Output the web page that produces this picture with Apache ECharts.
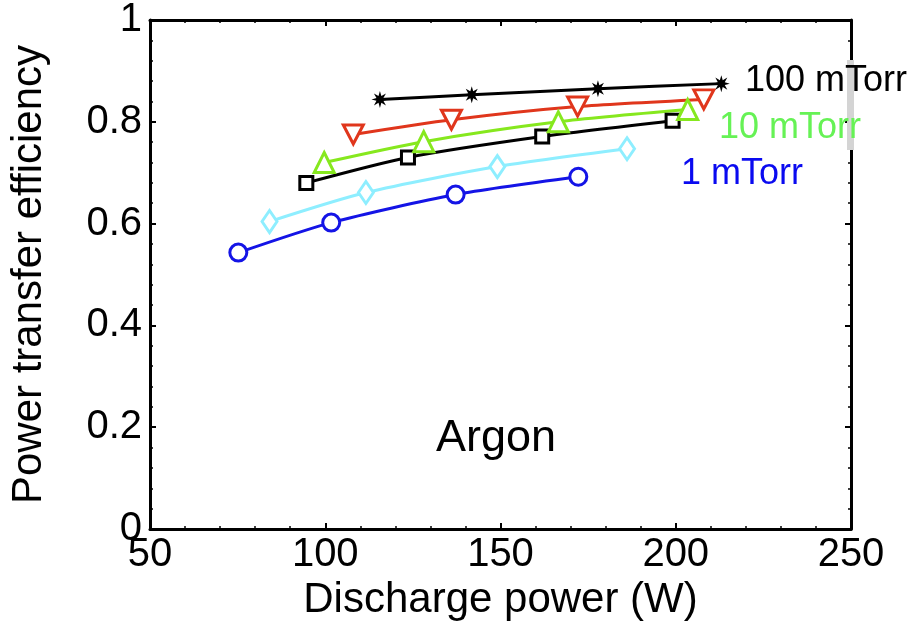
<!DOCTYPE html>
<html>
<head>
<meta charset="utf-8">
<title>Power transfer efficiency – Argon</title>
<script src="https://cdn.jsdelivr.net/npm/echarts@6/dist/echarts.min.js"></script>
<style>
  html, body { margin: 0; padding: 0; background: #fff; }
  #chart { width: 910px; height: 636px; }
</style>
</head>
<body>
<div id="chart"></div>
<script>
// Discharge power (W) and power transfer efficiency for each pressure curve
const star100x = [115.6, 141.8, 177.8, 213.0];
const star100y = [0.844, 0.853, 0.865, 0.875];
const tri30x = [108.0, 136.0, 172.0, 208.0];
const tri30y = [0.775, 0.804, 0.830, 0.844];
const tri10x = [99.7, 128.1, 166.5, 203.4];
const tri10y = [0.720, 0.761, 0.800, 0.824];
const sq5x = [94.6, 123.6, 161.9, 199.1];
const sq5y = [0.680, 0.730, 0.771, 0.802];
const dia3x = [84.1, 111.6, 149.1, 186.1];
const dia3y = [0.604, 0.661, 0.712, 0.747];
const circ1x = [75.2, 101.7, 137.2, 172.2];
const circ1y = [0.543, 0.602, 0.657, 0.692];

const xTicks = [50, 100, 150, 200, 250];
const yTicks = [0, 0.2, 0.4, 0.6, 0.8, 1];

const FONT = 'Liberation Sans, Arial, Helvetica, sans-serif';

// eight-spoke asterisk glyph as a filled star outline
function asteriskPath() {
  const pts = [];
  const n = 8;
  for (let i = 0; i < n * 2; i++) {
    const a = (Math.PI * i) / n - Math.PI / 2;
    const r = i % 2 === 0 ? 10 : 4.4;
    pts.push((10 + r * Math.cos(a)).toFixed(2) + ' ' + (10 + r * Math.sin(a)).toFixed(2));
  }
  return 'path://M' + pts.join(' L') + ' Z';
}

function pairs(xs, ys) {
  return xs.map((x, i) => [x, ys[i]]);
}

function curve(name, xs, ys, color, symbol, size, filled) {
  return {
    name: name,
    type: 'line',
    data: pairs(xs, ys),
    smooth: 0.25,
    symbol: symbol,
    symbolSize: size,
    showAllSymbol: true,
    lineStyle: { color: color, width: 3 },
    itemStyle: filled
      ? { color: color, borderColor: color, borderWidth: 0 }
      : { color: '#fff', borderColor: color, borderWidth: 3 },
    z: 3
  };
}

const chart = echarts.init(document.getElementById('chart'), null, { renderer: 'canvas' });

const axisCommon = {
  axisLine: { show: true, onZero: false, lineStyle: { color: '#000', width: 3 } },
  axisTick: { show: true, inside: true, length: 6, lineStyle: { color: '#000', width: 2 } },
  minorTick: { show: true, splitNumber: 5, length: 3, lineStyle: { color: '#000', width: 1.5 } },
  splitLine: { show: false },
  nameTextStyle: { color: '#000', fontSize: 42, fontFamily: FONT },
  axisLabel: { color: '#000', fontSize: 40, fontFamily: FONT }
};

chart.setOption({
  backgroundColor: '#fff',
  animation: false,
  grid: { left: 150, right: 59, top: 20, bottom: 107, containLabel: false },
  xAxis: [
    Object.assign({}, axisCommon, {
      type: 'value', min: xTicks[0], max: xTicks[xTicks.length - 1], interval: 50,
      name: 'Discharge power (W)', nameLocation: 'middle', nameGap: 42,
      axisLabel: Object.assign({}, axisCommon.axisLabel, { margin: 6 })
    }),
    Object.assign({}, axisCommon, {
      type: 'value', position: 'top', min: xTicks[0], max: xTicks[xTicks.length - 1], interval: 50,
      axisLabel: { show: false }
    })
  ],
  yAxis: [
    Object.assign({}, axisCommon, {
      type: 'value', min: yTicks[0], max: yTicks[yTicks.length - 1], interval: 0.2,
      name: 'Power transfer efficiency', nameLocation: 'middle', nameGap: 100,
      axisLabel: Object.assign({}, axisCommon.axisLabel, { margin: 8 })
    }),
    Object.assign({}, axisCommon, {
      type: 'value', position: 'right', min: yTicks[0], max: yTicks[yTicks.length - 1], interval: 0.2,
      axisLabel: { show: false }
    })
  ],
  series: [
    curve('1 mTorr', circ1x, circ1y, '#1414e6', 'circle', 17, false),
    curve('3 mTorr', dia3x, dia3y, '#8eeeff', 'diamond', [15, 22], false),
    curve('5 mTorr', sq5x, sq5y, '#000000', 'rect', 13, false),
    curve('10 mTorr', tri10x, tri10y, '#86e81e', 'triangle', 20, false),
    curve('30 mTorr', tri30x, tri30y, '#e0361c', 'path://M0 0 L20 0 L10 18 Z', [20, 19], false),
    curve('100 mTorr', star100x, star100y, '#000000', asteriskPath(), 17, true)
  ],
  graphic: [
    { type: 'rect', left: 847, top: 60, z: 50, shape: { width: 7, height: 90 }, style: { fill: '#d4d4d4' } },
    { type: 'text', left: 745, top: 63, z: 60, style: { text: '100 mTorr', fill: '#000', font: '36px ' + FONT } },
    { type: 'text', left: 719, top: 110, z: 60, style: { text: '10 mTorr', fill: '#66f255', font: '36px ' + FONT } },
    { type: 'text', left: 681, top: 156, z: 60, style: { text: '1 mTorr', fill: '#0a0af0', font: '36px ' + FONT } },
    { type: 'text', left: 436, top: 416, z: 60, style: { text: 'Argon', fill: '#000', font: '45px ' + FONT } }
  ]
});
</script>
</body>
</html>
